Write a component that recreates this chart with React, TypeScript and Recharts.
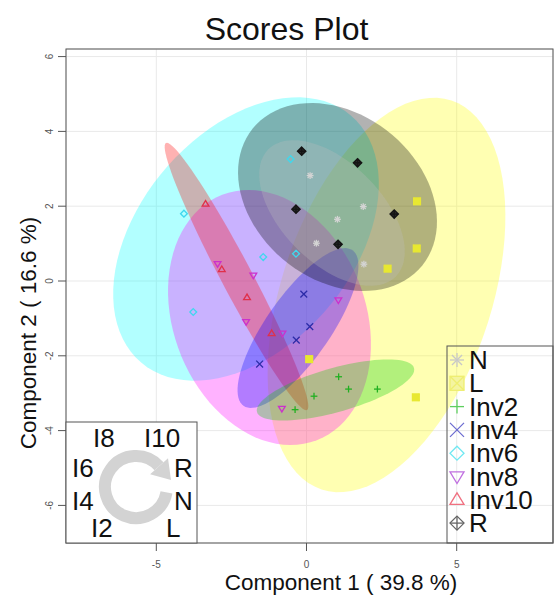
import React from 'react';
import { ScatterChart, Scatter, XAxis, YAxis, CartesianGrid } from 'recharts';

const FONT = '"Liberation Sans", Arial, Helvetica, sans-serif';

// ---- tick labels ----
const X_TICKS = [-5, 0, 5];
const Y_TICKS = [-6, -4, -2, 0, 2, 4, 6];
const X_DOMAIN = [-8.006, 8.206];
const Y_DOMAIN = [-7.005, 6.203];

// ---- groups (legend order) ----
const GROUPS = ['N', 'L', 'Inv2', 'Inv4', 'Inv6', 'Inv8', 'Inv10', 'R'];
const INSET_LABELS = ['I8', 'I10', 'I6', 'R', 'I4', 'N', 'I2', 'L'];

// ---- scores (Component 1, Component 2) ----
const N_SCORES = [[0.12, 2.82], [1.89, 1.99], [1.03, 1.65], [0.33, 1.01], [1.91, 0.45]];
const L_SCORES = [[3.68, 2.13], [3.67, 0.87], [2.7, 0.33], [0.09, -2.09], [3.64, -3.11]];
const INV2_SCORES = [[1.07, -2.56], [1.4, -2.89], [2.36, -2.89], [0.25, -3.08], [-0.38, -3.44]];
const INV4_SCORES = [[-0.09, -0.35], [0.11, -1.22], [-0.34, -1.58], [-1.56, -2.22]];
const INV6_SCORES = [[-0.53, 3.26], [-0.35, 0.73], [-1.44, 0.64], [-4.08, 1.8], [-3.77, -0.83]];
const INV8_SCORES = [[-2.96, 0.46], [-1.77, 0.15], [-2.01, -1.09], [-0.8, -1.4], [1.06, -0.51], [-0.82, -3.41]];
const INV10_SCORES = [[-3.36, 2.06], [-2.82, 0.31], [-1.98, -0.44], [-1.16, -1.4]];
const R_SCORES = [[-0.16, 3.47], [1.7, 3.16], [-0.35, 1.92], [2.92, 1.79], [1.05, 0.98]];

// ---- confidence ellipses: [centerX, centerY, u1x, u1y, u2x, u2y] (conjugate semi-axes, data units) ----
const N_ELLIPSE = [0.849, 1.818, 2.118, -1.702, -1.177, -0.945];
const L_ELLIPSE = [2.663, -0.374, 2.164, 5.198, 3.314, -0.89];
const INV2_ELLIPSE = [0.965, -2.914, 2.613, 0.588, 0.198, -0.567];
const INV4_ELLIPSE = [-0.283, -1.257, 1.814, 2.08, 0.872, -0.492];
const INV6_ELLIPSE = [-2.014, 1.123, 3.489, 3.305, 2.717, -1.85];
const INV8_ELLIPSE = [-1.232, -0.976, 1.575, -3.281, -2.988, -0.926];
const INV10_ELLIPSE = [-2.33, 0.12, 2.347, -3.57, 0.456, 0.194];
const R_ELLIPSE = [1.032, 2.246, 2.823, -1.829, -1.731, -1.722];

const SCORES: Record<string, number[][]> = {
  N: N_SCORES, L: L_SCORES, Inv2: INV2_SCORES, Inv4: INV4_SCORES,
  Inv6: INV6_SCORES, Inv8: INV8_SCORES, Inv10: INV10_SCORES, R: R_SCORES,
};
const ELLIPSES: Record<string, number[]> = {
  N: N_ELLIPSE, L: L_ELLIPSE, Inv2: INV2_ELLIPSE, Inv4: INV4_ELLIPSE,
  Inv6: INV6_ELLIPSE, Inv8: INV8_ELLIPSE, Inv10: INV10_ELLIPSE, R: R_ELLIPSE,
};
const ELLIPSE_ORDER = ['L', 'Inv6', 'Inv8', 'Inv10', 'Inv4', 'Inv2', 'R', 'N'];

const FILL: Record<string, string> = {
  N: '#BEBEBE', L: '#FFFF00', Inv2: '#00CD00', Inv4: '#0000FF',
  Inv6: '#00FFFF', Inv8: '#FF00FF', Inv10: '#FF0000', R: '#000000',
};
const MARK: Record<string, string> = {
  N: '#d4d4d4', L: '#e8e832', Inv2: '#22b022', Inv4: '#2c2ca8',
  Inv6: '#3fd8ee', Inv8: '#cc30cc', Inv10: '#e0304a', R: '#151515',
};
const LEGEND_COLOR: Record<string, string> = {
  N: '#c8c8c8', L: '#eeee70', Inv2: '#5fcf5f', Inv4: '#6a6ad0',
  Inv6: '#70e8f2', Inv8: '#c070e0', Inv10: '#f07080', R: '#666666',
};
const KIND: Record<string, string> = {
  N: 'asterisk', L: 'squareX', Inv2: 'plus', Inv4: 'cross',
  Inv6: 'diamond', Inv8: 'triDown', Inv10: 'triUp', R: 'diamondPlus',
};

function ellipseOutline(e: number[]) {
  const pts: { x: number; y: number }[] = [];
  const n = 90;
  for (let i = 0; i < n; i++) {
    const t = (2 * Math.PI * i) / n;
    pts.push({ x: e[0] + e[2] * Math.cos(t) + e[4] * Math.sin(t), y: e[1] + e[3] * Math.cos(t) + e[5] * Math.sin(t) });
  }
  return pts;
}

function Marker({ kind, cx, cy, r, color, sw, fill }: any) {
  const s = { stroke: color, strokeWidth: sw, fill: 'none' };
  switch (kind) {
    case 'asterisk': {
      const d = r * 0.72;
      return (
        <g {...s}>
          <line x1={cx - r} y1={cy} x2={cx + r} y2={cy} />
          <line x1={cx} y1={cy - r} x2={cx} y2={cy + r} />
          <line x1={cx - d} y1={cy - d} x2={cx + d} y2={cy + d} />
          <line x1={cx - d} y1={cy + d} x2={cx + d} y2={cy - d} />
        </g>
      );
    }
    case 'squareX':
      return (
        <g {...s}>
          <rect x={cx - r} y={cy - r} width={2 * r} height={2 * r} fill={fill || 'none'} />
          <line x1={cx - r} y1={cy - r} x2={cx + r} y2={cy + r} />
          <line x1={cx - r} y1={cy + r} x2={cx + r} y2={cy - r} />
        </g>
      );
    case 'plus':
      return (
        <g {...s}>
          <line x1={cx - r} y1={cy} x2={cx + r} y2={cy} />
          <line x1={cx} y1={cy - r} x2={cx} y2={cy + r} />
        </g>
      );
    case 'cross':
      return (
        <g {...s}>
          <line x1={cx - r} y1={cy - r} x2={cx + r} y2={cy + r} />
          <line x1={cx - r} y1={cy + r} x2={cx + r} y2={cy - r} />
        </g>
      );
    case 'diamond':
      return <polygon {...s} points={`${cx},${cy - r} ${cx + r},${cy} ${cx},${cy + r} ${cx - r},${cy}`} />;
    case 'triDown':
      return <polygon {...s} points={`${cx - r},${cy - r * 0.65} ${cx + r},${cy - r * 0.65} ${cx},${cy + r}`} />;
    case 'triUp':
      return <polygon {...s} points={`${cx - r},${cy + r * 0.65} ${cx + r},${cy + r * 0.65} ${cx},${cy - r}`} />;
    case 'diamondPlus':
      return (
        <g {...s}>
          <polygon points={`${cx},${cy - r} ${cx + r},${cy} ${cx},${cy + r} ${cx - r},${cy}`} fill={fill || 'none'} />
          <line x1={cx - r} y1={cy} x2={cx + r} y2={cy} />
          <line x1={cx} y1={cy - r} x2={cx} y2={cy + r} />
        </g>
      );
    default:
      return <g />;
  }
}

const XTick = (p: any) => (
  <text x={p.x} y={p.y + 15} textAnchor="middle" fontSize={10} fill="#555" fontFamily={FONT}>
    {p.payload.value}
  </text>
);
const YTick = (p: any) => (
  <text
    x={p.x - 2.5}
    y={p.y}
    textAnchor="middle"
    fontSize={10}
    fill="#555"
    fontFamily={FONT}
    transform={`rotate(-90, ${p.x - 2.5}, ${p.y})`}
  >
    {p.payload.value}
  </text>
);

const insetPos = [
  [93, 447], [144, 447], [72, 477], [174, 477], [72, 510], [174, 510], [91, 537], [166, 537],
];

export default function App() {
  return (
    <div style={{ position: 'absolute', left: 0, top: 0, width: 555, height: 601, background: '#fff' }}>
      <ScatterChart width={555} height={601} margin={{ top: 49, right: 2, bottom: 28, left: 36 }}>
        <CartesianGrid stroke="#e9e9e9" strokeWidth={1} />
        <XAxis
          type="number"
          dataKey="x"
          domain={X_DOMAIN}
          ticks={X_TICKS}
          interval={0}
          allowDataOverflow
          height={30}
          axisLine={false}
          tickSize={8}
          tickLine={{ stroke: '#555' }}
          tick={<XTick />}
        />
        <YAxis
          type="number"
          dataKey="y"
          domain={Y_DOMAIN}
          ticks={Y_TICKS}
          interval={0}
          allowDataOverflow
          width={30}
          axisLine={false}
          tickSize={8}
          tickLine={{ stroke: '#555' }}
          tick={<YTick />}
        />
        {ELLIPSE_ORDER.map((g) => (
          <Scatter
            key={'e-' + g}
            data={ellipseOutline(ELLIPSES[g])}
            isAnimationActive={false}
            shape={() => <g />}
            line={(lp: any) => (
              <path
                d={lp.points.map((q: any, i: number) => `${i ? 'L' : 'M'}${q.x},${q.y}`).join(' ') + ' Z'}
                fill={FILL[g]}
                fillOpacity={0.3}
                stroke="none"
              />
            )}
            lineType="joint"
          />
        ))}
        {GROUPS.map((g) => (
          <Scatter
            key={'p-' + g}
            data={SCORES[g].map(([x, y]) => ({ x, y }))}
            isAnimationActive={false}
            shape={(sp: any) => (
              <Marker
                kind={KIND[g]}
                cx={sp.cx}
                cy={sp.cy}
                r={g === 'R' ? 4 : 3.4}
                color={MARK[g]}
                sw={g === 'R' ? 1.6 : 1.3}
                fill={g === 'L' ? MARK[g] : g === 'R' ? '#333' : undefined}
              />
            )}
          />
        ))}
      </ScatterChart>
      <svg
        width={555}
        height={601}
        style={{ position: 'absolute', left: 0, top: 0, pointerEvents: 'none' }}
        fontFamily={FONT}
      >
        <rect x={66} y={49} width={487} height={494} fill="none" stroke="#555" strokeWidth={1} />
        <text x={286.5} y={40} textAnchor="middle" fontSize={32} fill="#111">Scores Plot</text>
        <text x={341} y={590} textAnchor="middle" fontSize={22.5} fill="#111">Component 1 ( 39.8 %)</text>
        <text x={36} y={333} textAnchor="middle" fontSize={22.5} fill="#111" transform="rotate(-90, 36, 333)">
          Component 2 ( 16.6 %)
        </text>
        {/* inset */}
        <rect x={66} y={422} width={131} height={121} fill="#fff" stroke="#555" strokeWidth={1} />
        <path d="M166.5,492.4 A31,31 0 1 1 159.0,466.3" fill="none" stroke="#d3d3d3" strokeWidth={12} />
        <polygon points="150.1,474.3 168.0,458.2 171,480" fill="#d3d3d3" />
        {INSET_LABELS.map((t, i) => (
          <text key={'in' + i} x={insetPos[i][0]} y={insetPos[i][1]} fontSize={26} fill="#111">{t}</text>
        ))}
        {/* legend */}
        <rect x={447} y={346} width={106} height={197} fill="none" stroke="#555" strokeWidth={1} />
        {GROUPS.map((g, i) => {
          const cy = 360 + i * 23.3;
          return (
            <g key={'lg' + g}>
              <Marker
                kind={KIND[g]}
                cx={457}
                cy={cy}
                r={7}
                color={LEGEND_COLOR[g]}
                sw={1.3}
                fill={g === 'L' ? '#f4f4a0' : undefined}
              />
              <text x={469} y={cy + 9} fontSize={26} fill="#111">{g}</text>
            </g>
          );
        })}
      </svg>
    </div>
  );
}
